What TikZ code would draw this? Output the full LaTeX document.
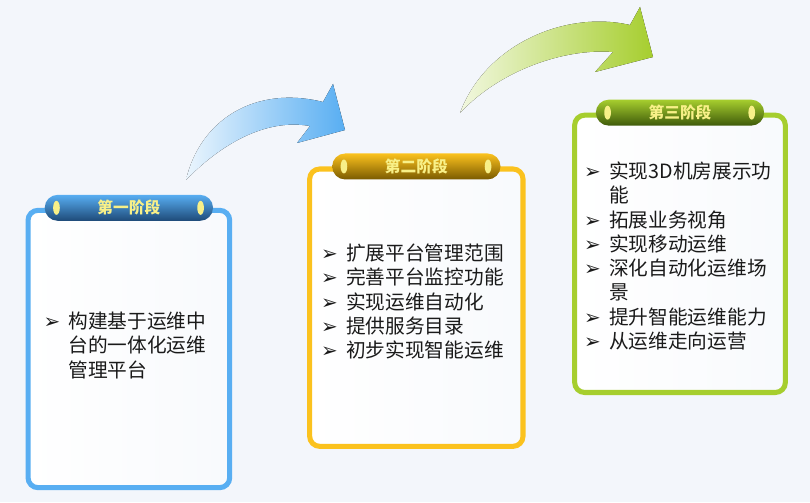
\documentclass[tikz,border=0pt]{standalone}
\usepackage{fontspec}
\setmainfont{Noto Sans CJK SC}
\newfontfamily\symfont{DejaVu Sans}
\usetikzlibrary{positioning}
\usetikzlibrary{shapes.misc}
\usetikzlibrary{calc}

\definecolor{bgblue}{RGB}{243,246,251}
\definecolor{lineblue}{RGB}{88,174,242}
\definecolor{lineorange}{RGB}{251,194,30}
\definecolor{linegreen}{RGB}{166,206,46}
\definecolor{darkblue}{RGB}{30,74,120}
\definecolor{darkorange}{RGB}{122,90,0}
\definecolor{darkgreen}{RGB}{62,90,10}
\definecolor{titletext}{RGB}{248,240,136}
\definecolor{bodytext}{RGB}{26,26,26}

\newcommand{\stagebullet}{\makebox[0.75cm][l]{\symfont\fontsize{17}{17}\selectfont ➢}}
\newcommand{\stagegap}{\hspace*{0.75cm}}

\begin{document}
\begin{tikzpicture}[
  stagebox/.style={draw=#1,line width=4.3pt,rounded corners=0.3cm,left color=white,right color=bgblue!60,minimum height=8.32cm,inner sep=0pt},
  stagepill/.style 2 args={rounded rectangle,top color=#1,bottom color=#2,minimum width=5.05cm,minimum height=0.78cm,inner sep=0pt,text=titletext,font=\bfseries\fontsize{13.4}{13.4}\selectfont},
  pilldot/.style={fill=titletext},
  stagelist/.style={anchor=north west,inner sep=0pt,text=bodytext,font=\fontsize{16.8}{20.7}\selectfont}
]
\fill[bgblue] (0,0) rectangle (24.3,15.06);

\fill[left color=lineblue!12,right color=lineblue] (5.58,9.66) .. controls (6.0,11.46) and (7.65,12.51) .. (9.69,12.0) -- (9.99,12.54) -- (10.35,11.16) -- (8.91,10.77) -- (9.3,11.28) .. controls (7.95,11.52) and (6.6,10.71) .. cycle;
\fill[left color=linegreen!15,right color=linegreen] (13.8,11.67) .. controls (14.55,13.71) and (16.95,14.76) .. (18.9,14.31) -- (19.2,14.85) -- (19.59,13.35) -- (17.85,12.9) -- (18.39,13.5) .. controls (16.95,13.62) and (15.0,12.96) .. cycle;

\node[stagebox=lineblue,minimum width=6.05cm] (box1) at (3.866,4.59) {};
\node[stagebox=lineorange,minimum width=6.4cm] (box2) at (12.49,5.83) {};
\node[stagebox=linegreen,minimum width=6.32cm] (box3) at (20.40,7.445) {};

\node[stagepill={lineblue}{darkblue}] (title1) at (box1.north) {第一阶段};
\node[stagepill={lineorange}{darkorange}] (title2) at (box2.north) {第二阶段};
\node[stagepill={linegreen}{darkgreen}] (title3) at (box3.north) {第三阶段};
\foreach \t in {title1,title2,title3}{
  \fill[pilldot] ($(\t.west)+(0.36,0)$) ellipse (0.1 and 0.21);
  \fill[pilldot] ($(\t.east)+(-0.38,0)$) ellipse (0.1 and 0.21);
}

\node[stagelist] (list1) at (1.30,5.715) {\begin{tabular}{@{}l@{}}
\stagebullet 构建基于运维中\\
\stagegap 台的一体化运维\\
\stagegap 管理平台
\end{tabular}};
\node[stagelist] (list2) at (9.63,7.755) {\begin{tabular}{@{}l@{}}
\stagebullet 扩展平台管理范围\\
\stagebullet 完善平台监控功能\\
\stagebullet 实现运维自动化\\
\stagebullet 提供服务目录\\
\stagebullet 初步实现智能运维
\end{tabular}};
\node[stagelist] (list3) at (17.52,10.215) {\begin{tabular}{@{}l@{}}
\stagebullet 实现3D机房展示功\\
\stagegap 能\\
\stagebullet 拓展业务视角\\
\stagebullet 实现移动运维\\
\stagebullet 深化自动化运维场\\
\stagegap 景\\
\stagebullet 提升智能运维能力\\
\stagebullet 从运维走向运营
\end{tabular}};

\end{tikzpicture}
\end{document}
